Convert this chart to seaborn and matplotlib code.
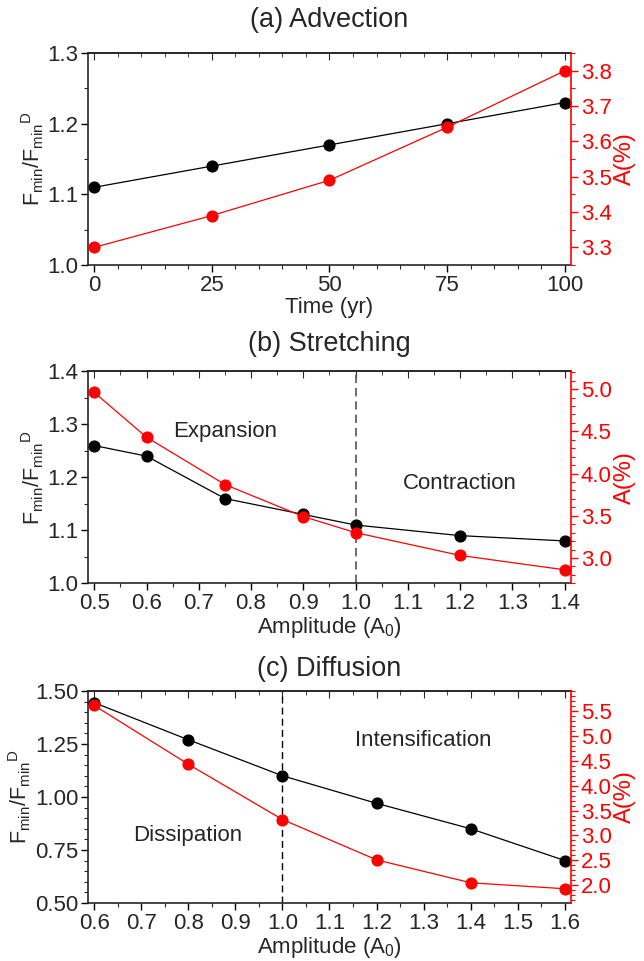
import matplotlib
matplotlib.use("Agg")
import matplotlib.pyplot as plt
from matplotlib.ticker import MultipleLocator
import seaborn as sns
import pandas as pd

sns.set_style("ticks")
plt.rcParams["font.family"] = ["Liberation Sans", "DejaVu Sans"]
plt.rcParams["mathtext.fontset"] = "custom"
plt.rcParams["mathtext.rm"] = "Liberation Sans"
plt.rcParams["mathtext.it"] = "Liberation Sans"

# (a) Advection
adv_time = [0, 25, 50, 75, 100]
adv_ratio = [1.11, 1.14, 1.17, 1.20, 1.23]
adv_area = [3.30, 3.39, 3.49, 3.64, 3.80]

# (b) Stretching
str_amp = [0.5, 0.6, 0.75, 0.9, 1.0, 1.2, 1.4]
str_ratio = [1.26, 1.24, 1.16, 1.13, 1.11, 1.09, 1.08]
str_area = [4.96, 4.43, 3.87, 3.49, 3.30, 3.03, 2.86]

# (c) Diffusion
dif_amp = [0.6, 0.8, 1.0, 1.2, 1.4, 1.6]
dif_ratio = [1.445, 1.27, 1.10, 0.97, 0.85, 0.70]
dif_area = [5.61, 4.43, 3.32, 2.51, 2.05, 1.93]

titles = ["(a) Advection", "(b) Stretching", "(c) Diffusion"]
xlabels = ["Time (yr)", r"Amplitude (A$_0$)", r"Amplitude (A$_0$)"]
ylabel_left = r"F$_{\mathrm{min}}$/F$_{\mathrm{min}}$$^{\mathrm{D}}$"
ylabel_right = "A(%)"

fig = plt.figure(figsize=(6.44, 9.61), dpi=100)
left, width, height = 0.1366, 0.750, 0.2206
bottoms = [0.7242, 0.3930, 0.0604]
title_pads = [18.5, 14.5, 10.5]

panels = [
    dict(x=adv_time, y1=adv_ratio, y2=adv_area, xlim=(-1.3, 101.3), ylim=(1.0, 1.3),
         ylim2=(3.25, 3.85), xmaj=25, xmin=5, ymaj=0.1, ymin=0.05, y2maj=0.1, y2min=0.05,
         yfmt="{:.1f}", xfmt="{:.0f}", vline=None),
    dict(x=str_amp, y1=str_ratio, y2=str_area, xlim=(0.488, 1.412), ylim=(1.0, 1.4),
         ylim2=(2.70, 5.21), xmaj=0.1, xmin=0.05, ymaj=0.1, ymin=0.05, y2maj=0.5, y2min=0.1,
         yfmt="{:.1f}", xfmt="{:.1f}", vline=("#555555", 1.2)),
    dict(x=dif_amp, y1=dif_ratio, y2=dif_area, xlim=(0.587, 1.613), ylim=(0.5, 1.5),
         ylim2=(1.645, 5.90), xmaj=0.1, xmin=0.05, ymaj=0.25, ymin=0.05, y2maj=0.5, y2min=0.1,
         yfmt="{:.2f}", xfmt="{:.1f}", vline=("black", 1.0)),
]

annotations = [
    [],
    [("Expansion", 0.75, 1.287), ("Contraction", 1.20, 1.189)],
    [("Intensification", 1.30, 1.264), ("Dissipation", 0.798, 0.820)],
]

TICK_FS = 16
LABEL_FS = 16
TITLE_FS = 19.5
YLAB_FS = 15.5

for i, p in enumerate(panels):
    ax = fig.add_axes([left, bottoms[i], width, height])
    df = pd.DataFrame({"x": p["x"], "ratio": p["y1"], "area": p["y2"]})
    if p["vline"] is not None:
        ax.axvline(1.0, color=p["vline"][0], lw=p["vline"][1], ls=(0, (5, 3)), zorder=1)
    sns.lineplot(data=df, x="x", y="ratio", ax=ax, color="black", lw=0.9,
                 marker="o", markersize=8, markeredgecolor="black", zorder=3)
    ax.set_xlim(*p["xlim"])
    ax.set_ylim(*p["ylim"])
    ax.xaxis.set_major_locator(MultipleLocator(p["xmaj"]))
    ax.xaxis.set_minor_locator(MultipleLocator(p["xmin"]))
    ax.yaxis.set_major_locator(MultipleLocator(p["ymaj"]))
    ax.yaxis.set_minor_locator(MultipleLocator(p["ymin"]))
    ax.xaxis.set_major_formatter(lambda v, pos, f=p["xfmt"]: f.format(v))
    ax.yaxis.set_major_formatter(lambda v, pos, f=p["yfmt"]: f.format(v))
    ax.tick_params(axis="both", which="major", direction="out", length=5, width=1,
                   labelsize=TICK_FS, color="black", pad=2)
    ax.tick_params(axis="both", which="minor", direction="out", length=3, width=0.8)
    ax.set_ylabel(ylabel_left, fontsize=YLAB_FS, labelpad=1)
    ax.set_title(titles[i], fontsize=TITLE_FS, pad=title_pads[i])
    for s in ax.spines.values():
        s.set_linewidth(1.2)

    # mirrored inward ticks along the top edge
    top = ax.secondary_xaxis("top")
    top.xaxis.set_major_locator(MultipleLocator(p["xmaj"]))
    top.xaxis.set_minor_locator(MultipleLocator(p["xmin"]))
    top.tick_params(axis="x", which="major", direction="in", length=5, labeltop=False)
    top.tick_params(axis="x", which="minor", direction="in", length=3)
    top.spines["top"].set_linewidth(1.2)

    for txt, tx, ty in annotations[i]:
        ax.text(tx, ty, txt, fontsize=16, ha="center", va="center")

    ax2 = ax.twinx()
    sns.lineplot(data=df, x="x", y="area", ax=ax2, color="red", lw=0.9,
                 marker="o", markersize=8, markeredgecolor="red", zorder=3)
    ax2.set_ylim(*p["ylim2"])
    ax2.yaxis.set_major_locator(MultipleLocator(p["y2maj"]))
    ax2.yaxis.set_minor_locator(MultipleLocator(p["y2min"]))
    ax2.yaxis.set_major_formatter(lambda v, pos: "{:.1f}".format(v))
    ax2.tick_params(axis="y", which="major", direction="out", length=5, width=1,
                    labelsize=TICK_FS, colors="red", pad=2)
    ax2.tick_params(axis="y", which="minor", direction="out", length=3, width=0.8,
                    colors="red")
    ax2.set_ylabel(ylabel_right, fontsize=17, color="red", labelpad=2)
    ax2.spines["right"].set_color("red")
    ax2.spines["right"].set_linewidth(1.2)
    ax2.spines["top"].set_visible(False)
    ax2.spines["left"].set_visible(False)
    ax2.spines["bottom"].set_visible(False)
    ax.spines["right"].set_visible(False)
    ax.set_xlabel(xlabels[i], fontsize=LABEL_FS, labelpad=1)

fig.savefig("out.png", dpi=100)
